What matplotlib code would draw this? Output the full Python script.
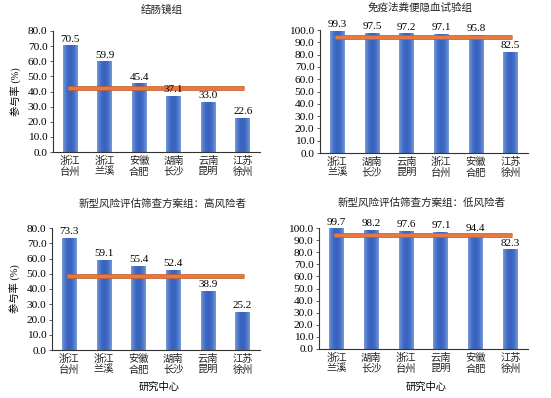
import matplotlib
matplotlib.use("Agg")
import matplotlib.pyplot as plt
import numpy as np

plt.rcParams['font.family'] = ['Liberation Serif', 'Noto Sans CJK SC', 'DejaVu Sans']

# data
titles = ['结肠镜组', '免疫法粪便隐血试验组',
          '新型风险评估筛查方案组：高风险者', '新型风险评估筛查方案组：低风险者']
centers = [
    ['浙江\n台州', '浙江\n兰溪', '安徽\n合肥', '湖南\n长沙', '云南\n昆明', '江苏\n徐州'],
    ['浙江\n兰溪', '湖南\n长沙', '云南\n昆明', '浙江\n台州', '安徽\n合肥', '江苏\n徐州'],
    ['浙江\n台州', '浙江\n兰溪', '安徽\n合肥', '湖南\n长沙', '云南\n昆明', '江苏\n徐州'],
    ['浙江\n兰溪', '湖南\n长沙', '浙江\n台州', '云南\n昆明', '安徽\n合肥', '江苏\n徐州'],
]
rates = [
    [70.5, 59.9, 45.4, 37.1, 33.0, 22.6],
    [99.3, 97.5, 97.2, 97.1, 95.8, 82.5],
    [73.3, 59.1, 55.4, 52.4, 38.9, 25.2],
    [99.7, 98.2, 97.6, 97.1, 94.4, 82.3],
]
overall = [42.2, 94.0, 48.6, 94.3]
ymax = [80, 100, 80, 100]

W, H = 551, 398
fig = plt.figure(figsize=(W / 100, H / 100), dpi=100)
# axes boxes in pixels: left, right, top, bottom
boxes = [(53, 260, 31, 152), (320, 528, 30, 153), (52, 260, 228, 350), (319, 528, 228, 349)]
# title centres in pixels
title_pos = [(162, 10), (420, 8), (163, 204), (422, 203)]

# horizontal gradient for the bars: light edges, darker middle
g = np.linspace(-1, 1, 64)
shade = np.abs(g) ** 2
light = np.array([0.47, 0.61, 0.86])
dark = np.array([0.22, 0.39, 0.75])
grad = (dark + (light - dark) * shade[:, None])[None, :, :]

for i in range(4):
    l, r, t, b = boxes[i]
    ax = fig.add_axes([l / W, 1 - b / H, (r - l) / W, (b - t) / H])
    x = range(len(rates[i]))
    bars = ax.bar(x, rates[i], width=0.43, color='none', edgecolor='none', zorder=2)
    for p in bars:
        x0, y0 = p.get_x(), p.get_y()
        im = ax.imshow(grad, extent=[x0, x0 + p.get_width(), y0, y0 + p.get_height()],
                       aspect='auto', zorder=2, interpolation='bilinear')
        im.set_clip_path(p)
    ax.hlines(overall[i], -0.06, 5.04, color='#C8602F', linewidth=3.4, zorder=3)
    ax.hlines(overall[i], -0.06, 5.04, color='#E9783F', linewidth=2.2, zorder=3)
    for xi, v in zip(x, rates[i]):
        ax.text(xi, v + ymax[i] * 0.015, f'{v:.1f}', ha='center', va='bottom', fontsize=8)
    ax.set_xlim(-0.5, 5.5)
    ax.set_ylim(0, ymax[i])
    ax.set_yticks(range(0, ymax[i] + 1, 10))
    ax.set_yticklabels([f'{v:.1f}' for v in range(0, ymax[i] + 1, 10)], fontsize=8.2)
    ax.set_xticks(list(x))
    ax.set_xticklabels(centers[i], fontsize=7.4, linespacing=1.2, color='#222222')
    ax.tick_params(axis='x', length=0, pad=2.5)
    ax.tick_params(axis='y', length=2.5, width=0.6, pad=1.5, color='#444444')
    for s in ['top', 'right']:
        ax.spines[s].set_visible(False)
    for s in ['left', 'bottom']:
        ax.spines[s].set_color('#333333')
        ax.spines[s].set_linewidth(0.8)
    tx, ty = title_pos[i]
    fig.text(tx / W, 1 - ty / H, titles[i], ha='center', va='center', fontsize=7.6, color='#222222')
    if i % 2 == 0:
        ax.set_ylabel('参与率 (%)', fontsize=7.4, labelpad=4)
    if i >= 2:
        fig.text(((l + r) / 2 + 3) / W, 1 - 387 / H, '研究中心', ha='center', va='center', fontsize=7.4)

fig.savefig('out.png', dpi=100)
